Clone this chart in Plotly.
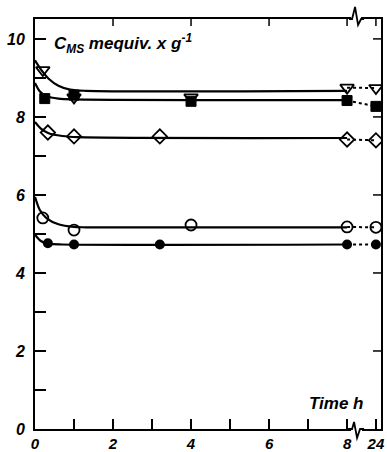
import plotly.graph_objects as go

# ---- data (hours; the 24 h point is drawn after the axis break) ----
POS24 = 8.74  # axis position of the 24 h point (after the break)

tri_x = [0.2, 1.0, 4.0, 8.0, 24]
tri_y = [9.2, 8.5, 8.5, 8.75, 8.74]
sq_x = [0.25, 1.0, 4.0, 8.0, 24]
sq_y = [8.47, 8.56, 8.4, 8.42, 8.27]
dia_x = [0.33, 1.0, 3.2, 8.0, 24]
dia_y = [7.6, 7.5, 7.5, 7.42, 7.4]
oc_x = [0.2, 1.0, 4.0, 8.0, 24]
oc_y = [5.41, 5.1, 5.23, 5.18, 5.17]
fc_x = [0.33, 1.0, 3.2, 8.0, 24]
fc_y = [4.76, 4.73, 4.73, 4.73, 4.73]

# fitted (hand-drawn) curves, 0 - 8 h
tri_cx = [0, 0.15, 0.35, 0.6, 0.9, 1.3, 8]
tri_cy = [9.45, 9.22, 8.98, 8.8, 8.7, 8.67, 8.67]
sq_cx = [0, 0.12, 0.3, 0.6, 1.0, 8]
sq_cy = [8.87, 8.66, 8.53, 8.47, 8.45, 8.43]
dia_cx = [0, 0.15, 0.35, 0.7, 1.1, 8]
dia_cy = [7.87, 7.7, 7.58, 7.51, 7.48, 7.46]
oc_cx = [0, 0.12, 0.3, 0.6, 1.0, 1.3, 8]
oc_cy = [5.95, 5.62, 5.4, 5.25, 5.18, 5.17, 5.17]
fc_cx = [0, 0.15, 0.35, 0.7, 8]
fc_cy = [4.98, 4.82, 4.75, 4.73, 4.73]

x_tickvals = [0, 2, 4, 6, 8, POS24]
x_ticktext = ["0", "2", "4", "6", "8", "24"]
x_minor = [1, 3, 5, 7]
x_top_ticks = [2, 4, 6, 8, POS24]
y_tickvals = [0, 2, 4, 6, 8, 10]
y_ticktext = ["0", "2", "4", "6", "8", "10"]
y_minor = [1, 3, 5, 7, 9]
y_right_ticks = [2, 4, 6, 8, 10]


def pos(xs):
    return [POS24 if v == 24 else v for v in xs]


FONT = "Liberation Sans"
fig = go.Figure()

series = [
    (tri_x, tri_y, tri_cx, tri_cy, dict(symbol="triangle-down-open", size=12, color="black", line=dict(width=1.8))),
    (sq_x, sq_y, sq_cx, sq_cy, dict(symbol="square", size=10, color="black", line=dict(width=1, color="black"))),
    (dia_x, dia_y, dia_cx, dia_cy, dict(symbol="diamond-open", size=11, color="black", line=dict(width=1.8))),
    (oc_x, oc_y, oc_cx, oc_cy, dict(symbol="circle-open", size=11, color="black", line=dict(width=1.8))),
    (fc_x, fc_y, fc_cx, fc_cy, dict(symbol="circle", size=10, color="black")),
]

for xs, ys, cx, cy, mk in series:
    p = pos(xs)
    fig.add_trace(go.Scatter(x=cx, y=cy, mode="lines", line=dict(color="black", width=2.2, shape="spline", smoothing=0.8),
                             hoverinfo="skip", showlegend=False))
    fig.add_trace(go.Scatter(x=[p[-2], p[-1]], y=[ys[-2], ys[-1]], mode="lines",
                             line=dict(color="black", width=2, dash="3px,3px"), showlegend=False))
    fig.add_trace(go.Scatter(x=p, y=ys, mode="markers", marker=mk, showlegend=False))

XR = [0, 8.87]
YR = [0, 10.51]
tickfont = dict(family=FONT, size=16, color="black", weight="bold", style="italic")
xtickfont = dict(family=FONT, size=15, color="black", weight="bold", style="italic")

fig.update_layout(
    width=387, height=452,
    margin=dict(l=35, r=6, t=19, b=23),
    paper_bgcolor="white", plot_bgcolor="white",
    xaxis=dict(range=XR, tickvals=x_tickvals, ticktext=x_ticktext, ticks="inside", ticklen=10,
               tickwidth=1.5, tickcolor="black", showline=True, linecolor="black", linewidth=2,
               mirror=True, showgrid=False, zeroline=False, tickfont=xtickfont, ticklabelstandoff=0,
               automargin=False,
               minor=dict(tickvals=x_minor, ticks="inside", ticklen=10, tickwidth=1.5, tickcolor="black",
                          showgrid=False)),
    yaxis=dict(range=YR, tickvals=y_tickvals, ticktext=y_ticktext, ticks="inside", ticklen=11,
               tickwidth=1.5, tickcolor="black", showline=True, linecolor="black", linewidth=2,
               mirror=True, showgrid=False, zeroline=False, tickfont=tickfont, ticklabelstandoff=5,
               automargin=False,
               minor=dict(tickvals=y_minor, ticks="inside", ticklen=11, tickwidth=1.5, tickcolor="black",
                          showgrid=False)),
    annotations=[
        dict(text="C<sub>MS</sub> mequiv. x g<sup>-1</sup>", xref="paper", yref="paper", x=0.05, y=0.94,
             xanchor="left", yanchor="middle", showarrow=False,
             font=dict(family=FONT, size=17, color="black", weight="bold", style="italic")),
        dict(text="Time h", xref="paper", yref="paper", x=0.785, y=0.062,
             xanchor="left", yanchor="middle", showarrow=False,
             font=dict(family=FONT, size=17, color="black", weight="bold", style="italic")),
    ],
)

# top and right ticks (inside), fixed pixel length
for v in x_top_ticks:
    fig.add_shape(type="line", xref="x", yref="paper", ysizemode="pixel", yanchor=1,
                  x0=v, x1=v, y0=0, y1=-7, line=dict(color="black", width=1.5))
for v in y_right_ticks:
    fig.add_shape(type="line", xref="paper", yref="y", xsizemode="pixel", xanchor=1,
                  x0=0, x1=-8, y0=v, y1=v, line=dict(color="black", width=1.5))


def px2x(px):
    return (px - 35) / 39.0


def py2p(py):
    return (429 - py) / 410.0


def path(pts):
    return "M " + " L ".join(f"{px2x(a):.4f},{py2p(b):.4f}" for a, b in pts)


# axis-break marks
fig.add_shape(type="line", xref="x", yref="paper", x0=px2x(351), x1=px2x(361), y0=1, y1=1,
              line=dict(color="white", width=4))
fig.add_shape(type="path", xref="x", yref="paper", path=path([(349, 19), (352, 19), (355, 7), (358, 25), (361, 19), (364, 19)]),
              line=dict(color="black", width=1.8))
fig.add_shape(type="line", xref="x", yref="paper", x0=px2x(351), x1=px2x(362), y0=0, y1=0,
              line=dict(color="white", width=4))
fig.add_shape(type="path", xref="x", yref="paper", path=path([(348, 429), (352, 429), (354, 422), (357, 438), (360, 429), (364, 429)]),
              line=dict(color="black", width=1.8))

fig.write_html("out.html")
